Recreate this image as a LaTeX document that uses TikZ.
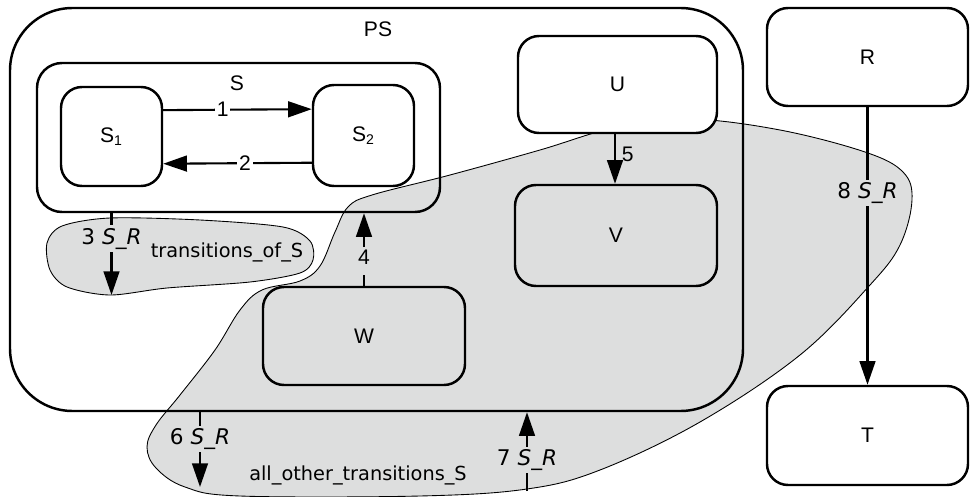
\documentclass[tikz,border=0pt]{standalone}
\usepackage{fontspec}
\setmainfont{Liberation Sans}
\newfontfamily\dejavu{DejaVu Sans}
\usetikzlibrary{arrows.meta}
\definecolor{blobgray}{RGB}{221,222,222}

\begin{document}
\begin{tikzpicture}[x=0.02cm,y=-0.02cm,
    box/.style 2 args={draw,line width=1.4pt,rounded corners=0.42cm,
        minimum width=#1*0.02cm,minimum height=#2*0.02cm,inner sep=0pt,
        font=\fontsize{12}{14}\selectfont},
    arr/.style={line width=1.2pt,-{Triangle[length=13.5pt,width=9pt]}},
    lbl/.style={fill=blobgray,inner sep=1.5pt,font=\dejavu\fontsize{12.3}{14}\selectfont},
    num/.style={fill=white,inner sep=1pt,font=\fontsize{12}{14}\selectfont},
    blob/.style={fill=blobgray,draw=black,line width=0.5pt}]
  \useasboundingbox (0,0) rectangle (971,497);
  % the two shaded regions
  \draw[blob] plot[smooth cycle,tension=0.6] coordinates {
      (147,447) (156,425) (180,395) (215,350) (240,310) (262,290) (300,281)
      (320,266) (335,232) (348,207) (372,195) (450,175) (540,150) (617,127)
      (690,119) (780,130) (865,152) (903,172) (912,200) (900,245) (870,285)
      (800,355) (700,422) (600,470) (527,489) (420,496) (240,496) (185,487)
      (156,468)};
  \draw[white,line width=3pt] plot[smooth cycle] coordinates {
      (47,243) (62,226) (110,218) (200,220) (283,227) (310,241) (313,260)
      (300,273) (250,282) (167,288) (110,295) (67,287) (50,270)};
  \draw[blob] plot[smooth cycle] coordinates {
      (47,243) (62,226) (110,218) (200,220) (283,227) (310,241) (313,260)
      (300,273) (250,282) (167,288) (110,295) (67,287) (50,270)};
  \node[font=\dejavu\fontsize{11}{13}\selectfont] (tos) at (227,252) {transitions\_of\_S};
  \node[font=\dejavu\fontsize{11}{13}\selectfont] (aots) at (358,475) {all\_other\_transitions\_S};
  % boxes
  \node[box={733}{403},rounded corners=1.25cm] (PS) at (376.5,209.5) {};
  \node[font=\fontsize{12}{14}\selectfont] (PSname) at (378,29) {PS};
  \node[box={403}{149},rounded corners=0.5cm] (S) at (238.5,137.5) {};
  \node[font=\fontsize{12}{14}\selectfont] (Sname) at (237,83) {S};
  \node[box={101}{99}] (S1) at (111.5,136.5) {S\textsubscript{1}};
  \node[box={101}{101}] (S2) at (363.5,135.5) {S\textsubscript{2}};
  \node[box={199}{97},fill=white] (U) at (617.5,84.5) {U};
  \node[box={202}{101}] (V) at (616,235.5) {V};
  \node[box={202}{98}] (W) at (364,336) {W};
  \node[box={201}{98},fill=white] (R) at (867.5,57) {R};
  \node[box={201}{99},fill=white] (T) at (867.5,435.5) {T};
  \coordinate (e3) at (111.5,295);
  \coordinate (e6) at (200,487);
  \coordinate (s7) at (527,491);
  % transitions
  \draw[arr] ([yshift=15pt]S1.east) -- ([yshift=15pt]S2.west) node[num,pos=0.4] (t1) {1};
  \draw[arr] ([yshift=-15.5pt]S2.west) -- ([yshift=-15.5pt]S1.east) node[num,pos=0.45] (t2) {2};
  \draw[arr] (S.south -| e3) -- (e3) node[lbl,pos=0.31] (t3) {3 \textit{S\_R}};
  \draw[arr,dash pattern=on 6pt off 5pt] (W.north) -- (W.north |- S.south) node[lbl,pos=0.39,font=\fontsize{12}{14}\selectfont] (t4) {4};
  \draw[arr] (U.south -| 615,0) -- (V.north -| 615,0) node[right,pos=0.4,font=\fontsize{12}{14}\selectfont] (t5) {5};
  \draw[arr] (PS.south -| e6) -- (e6) node[lbl,pos=0.36] (t6) {6 \textit{S\_R}};
  \draw[arr] (s7) -- (PS.south -| s7) node[lbl,pos=0.39] (t7) {7 \textit{S\_R}};
  \draw[arr] (R.south) -- (T.north) node[lbl,pos=0.31] (t8) {8 \textit{S\_R}};
\end{tikzpicture}
\end{document}
